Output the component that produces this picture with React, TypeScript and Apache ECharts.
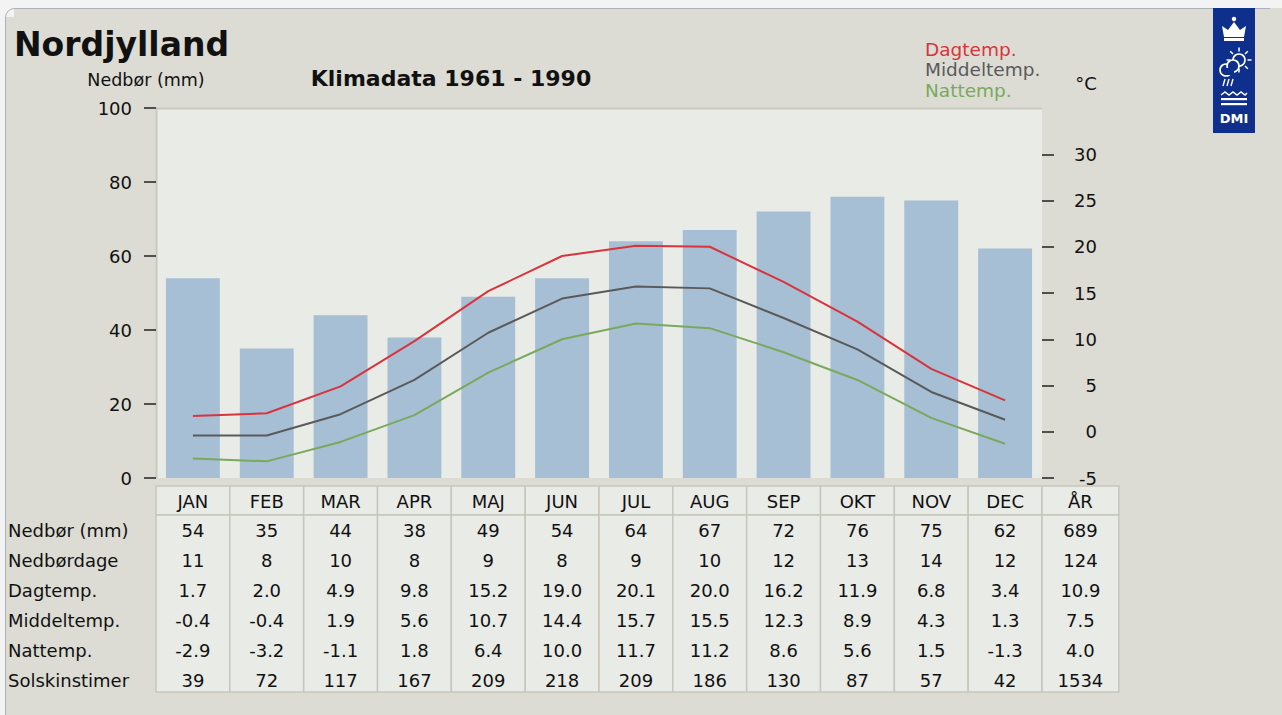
import React, { useEffect, useRef } from "react";
import * as echarts from "echarts";

const months = ["JAN", "FEB", "MAR", "APR", "MAJ", "JUN", "JUL", "AUG", "SEP", "OKT", "NOV", "DEC"];
const yearLabel = "ÅR";
const precipitation = [54, 35, 44, 38, 49, 54, 64, 67, 72, 76, 75, 62];
const precipitationDays = [11, 8, 10, 8, 9, 8, 9, 10, 12, 13, 14, 12];
const dayTemp = [1.7, 2.0, 4.9, 9.8, 15.2, 19.0, 20.1, 20.0, 16.2, 11.9, 6.8, 3.4];
const meanTemp = [-0.4, -0.4, 1.9, 5.6, 10.7, 14.4, 15.7, 15.5, 12.3, 8.9, 4.3, 1.3];
const nightTemp = [-2.9, -3.2, -1.1, 1.8, 6.4, 10.0, 11.7, 11.2, 8.6, 5.6, 1.5, -1.3];
const sunHours = [39, 72, 117, 167, 209, 218, 209, 186, 130, 87, 57, 42];
const yearTotals = ["689", "124", "10.9", "7.5", "4.0", "1534"];
const rowLabels = ["Nedbør (mm)", "Nedbørdage", "Dagtemp.", "Middeltemp.", "Nattemp.", "Solskinstimer"];
const rightTickValues = [-5, 0, 5, 10, 15, 20, 25, 30];
const legendNames = ["Dagtemp.", "Middeltemp.", "Nattemp."];

const FONT = "DejaVu Sans";
const RED = "#d8343c";
const GRAY = "#5a5a5a";
const GREEN = "#79a95c";
const PANEL = "#dcdcd4";
const CELL = "#e9ebe7";
const CELL_BORDER = "#c6c6bc";

export default function App() {
  const ref = useRef<HTMLDivElement>(null);

  useEffect(() => {
    if (!ref.current) return;
    const chart = echarts.init(ref.current, null, { renderer: "svg" });
    const gridLeft = 156, gridTop = 108, gridW = 886, gridH = 370;

    chart.setOption({
      animation: false,
      backgroundColor: PANEL,
      textStyle: { fontFamily: FONT },
      grid: {
        left: gridLeft, top: gridTop, width: gridW, height: gridH,
        show: true, backgroundColor: CELL, borderWidth: 0,
      },
      xAxis: {
        type: "category", data: months,
        axisLine: { show: false }, axisTick: { show: false }, axisLabel: { show: false },
        splitLine: { show: false },
      },
      yAxis: [
        {
          type: "value", min: 0, max: 100, interval: 20, position: "left",
          axisLine: { show: false },
          axisTick: { show: true, inside: false, length: 12, lineStyle: { color: "#222", width: 1.5 } },
          axisLabel: { margin: 24, color: "#111", fontSize: 18, fontFamily: FONT },
          splitLine: { show: false },
        },
        {
          type: "value", min: -5, max: 35, interval: 5, position: "right",
          axisLine: { show: false },
          axisTick: { show: true, inside: false, length: 12, customValues: rightTickValues, lineStyle: { color: "#222", width: 1.5 } },
          axisLabel: { margin: 55, align: "right", color: "#111", fontSize: 18, fontFamily: FONT, customValues: rightTickValues },
          splitLine: { show: false },
        },
      ],
      series: [
        { type: "bar", name: "Nedbør", data: precipitation, yAxisIndex: 0, barWidth: "73%", itemStyle: { color: "#a7bfd4" } },
        { type: "line", name: legendNames[0], data: dayTemp, yAxisIndex: 1, symbol: "none", lineStyle: { color: RED, width: 2 }, z: 5 },
        { type: "line", name: legendNames[1], data: meanTemp, yAxisIndex: 1, symbol: "none", lineStyle: { color: GRAY, width: 2 }, z: 5 },
        { type: "line", name: legendNames[2], data: nightTemp, yAxisIndex: 1, symbol: "none", lineStyle: { color: GREEN, width: 2 }, z: 5 },
      ],
    });

    // Table built from library scale positions
    const c0 = chart.convertToPixel({ xAxisIndex: 0 }, 0) as number;
    const c1 = chart.convertToPixel({ xAxisIndex: 0 }, 1) as number;
    const colW = c1 - c0;
    const headTop = 486, headH = 29, bodyTop = 515, bodyBottom = 692;
    const rowCenters = [530, 560, 590, 620, 650, 680];
    const fmt1 = (v: number) => v.toFixed(1);
    const rows: string[][] = [
      precipitation.map(String),
      precipitationDays.map(String),
      dayTemp.map(fmt1),
      meanTemp.map(fmt1),
      nightTemp.map(fmt1),
      sunHours.map(String),
    ];

    const g: any[] = [];
    // outer frame strips
    g.push({ type: "rect", shape: { x: 0, y: 0, width: 1282, height: 8 }, style: { fill: "#f3f3f3" }, silent: true });
    g.push({ type: "rect", shape: { x: 0, y: 0, width: 5, height: 715 }, style: { fill: "#f3f3f3" }, silent: true });
    g.push({ type: "line", shape: { x1: 14, y1: 8.5, x2: 1270, y2: 8.5 }, style: { stroke: "#a9b3bd", lineWidth: 1 } });
    g.push({ type: "line", shape: { x1: 5.5, y1: 17, x2: 5.5, y2: 715 }, style: { stroke: "#a9b3bd", lineWidth: 1 } });
    g.push({ type: "arc", shape: { cx: 14.5, cy: 17.5, r: 9, startAngle: Math.PI, endAngle: Math.PI * 1.5 }, style: { stroke: "#a9b3bd", lineWidth: 1, fill: null } });
    g.push({ type: "rect", shape: { x: 5, y: 8, width: 9, height: 9 }, style: { fill: "#f3f3f3" }, z: -1, silent: true });

    // plot shadow edges
    g.push({ type: "line", shape: { x1: gridLeft, y1: gridTop + 0.5, x2: gridLeft + gridW, y2: gridTop + 0.5 }, style: { stroke: "#c9c9c0", lineWidth: 2 } });
    g.push({ type: "line", shape: { x1: gridLeft + 0.5, y1: gridTop, x2: gridLeft + 0.5, y2: gridTop + gridH }, style: { stroke: "#c9c9c0", lineWidth: 2 } });

    // titles
    g.push({ type: "text", x: 14, y: 44, style: { text: "Nordjylland", font: `bold 33px "${FONT}"`, fill: "#111", verticalAlign: "middle", align: "left" } });
    g.push({ type: "text", x: 146, y: 80, style: { text: "Nedbør (mm)", font: `17.5px "${FONT}"`, fill: "#111", verticalAlign: "middle", align: "center" } });
    g.push({ type: "text", x: 451, y: 78, style: { text: "Klimadata 1961 - 1990", font: `bold 22px "${FONT}"`, fill: "#111", verticalAlign: "middle", align: "center" } });
    const legColors = [RED, GRAY, GREEN];
    legendNames.forEach((n, i) => {
      g.push({ type: "text", x: 925, y: 49 + i * 20.5, style: { text: n, font: `18.5px "${FONT}"`, fill: legColors[i], verticalAlign: "middle", align: "left" } });
    });
    g.push({ type: "text", x: 1086, y: 83, style: { text: "°C", font: `18px "${FONT}"`, fill: "#111", verticalAlign: "middle", align: "center" } });

    // table columns
    const cols = [...months, yearLabel];
    cols.forEach((m, i) => {
      const left = c0 - colW / 2 + i * colW;
      const w = i === months.length ? colW + 3 : colW;
      g.push({ type: "rect", shape: { x: left, y: headTop, width: w, height: headH }, style: { fill: CELL, stroke: CELL_BORDER, lineWidth: 1.5 } });
      g.push({ type: "rect", shape: { x: left, y: bodyTop, width: w, height: bodyBottom - bodyTop }, style: { fill: CELL, stroke: CELL_BORDER, lineWidth: 1.5 } });
      const cx = left + w / 2;
      g.push({ type: "text", x: cx, y: headTop + headH / 2 + 1, style: { text: m, font: `18px "${FONT}"`, fill: "#111", align: "center", verticalAlign: "middle" } });
      rowCenters.forEach((cy, r) => {
        const txt = i === months.length ? yearTotals[r] : rows[r][i];
        g.push({ type: "text", x: cx, y: cy, style: { text: txt, font: `18px "${FONT}"`, fill: "#111", align: "center", verticalAlign: "middle" } });
      });
    });
    rowLabels.forEach((l, r) => {
      g.push({ type: "text", x: 8, y: rowCenters[r], style: { text: l, font: `18px "${FONT}"`, fill: "#111", align: "left", verticalAlign: "middle" } });
    });

    // DMI logo
    const lx = 1213, ly = 8, lw = 42, lh = 125;
    const lc = lx + lw / 2;
    const BLUE = "#0f2f8c";
    g.push({ type: "rect", shape: { x: lx, y: ly, width: lw, height: lh }, style: { fill: BLUE } });
    // crown
    g.push({ type: "polygon", shape: { points: [[lc - 10, 37], [lc - 12, 26], [lc - 6, 30], [lc, 22], [lc + 6, 30], [lc + 12, 26], [lc + 10, 37]] }, style: { fill: "#fff" } });
    g.push({ type: "rect", shape: { x: lc - 10, y: 38, width: 20, height: 3 }, style: { fill: "#fff" } });
    g.push({ type: "circle", shape: { cx: lc, cy: 19, r: 2.2 }, style: { fill: "#fff" } });
    // sun
    g.push({ type: "circle", shape: { cx: lc + 5, cy: 60, r: 6 }, style: { fill: "none", stroke: "#fff", lineWidth: 1.6 } });
    for (let k = 0; k < 8; k++) {
      const a = (k * Math.PI) / 4;
      g.push({ type: "line", shape: { x1: lc + 5 + Math.cos(a) * 8.5, y1: 60 + Math.sin(a) * 8.5, x2: lc + 5 + Math.cos(a) * 12.5, y2: 60 + Math.sin(a) * 12.5 }, style: { stroke: "#fff", lineWidth: 1.5 } });
    }
    // cloud
    g.push({ type: "circle", shape: { cx: lc - 8, cy: 70, r: 6 }, style: { fill: BLUE, stroke: "#fff", lineWidth: 1.6 } });
    g.push({ type: "circle", shape: { cx: lc - 1, cy: 66, r: 6 }, style: { fill: BLUE, stroke: "#fff", lineWidth: 1.6 } });
    g.push({ type: "rect", shape: { x: lc - 8, y: 68, width: 8, height: 7 }, style: { fill: BLUE } });
    for (let k = 0; k < 3; k++) {
      g.push({ type: "line", shape: { x1: lc - 9 + k * 4, y1: 79, x2: lc - 11 + k * 4, y2: 86 }, style: { stroke: "#fff", lineWidth: 1.4 } });
    }
    // waves
    g.push({ type: "polyline", shape: { points: [[lc - 13, 95], [lc - 9, 92], [lc - 5, 95], [lc - 1, 92], [lc + 3, 95], [lc + 7, 92], [lc + 11, 95], [lc + 13, 93]] }, style: { stroke: "#fff", lineWidth: 1.5, fill: null } });
    g.push({ type: "rect", shape: { x: lc - 13, y: 98, width: 26, height: 2.2 }, style: { fill: "#fff" } });
    g.push({ type: "rect", shape: { x: lc - 13, y: 103, width: 26, height: 2.2 }, style: { fill: "#fff" } });
    g.push({ type: "text", x: lc, y: 118, style: { text: "DMI", font: `bold 13px "${FONT}"`, fill: "#fff", align: "center", verticalAlign: "middle" } });

    chart.setOption({ graphic: { elements: g } });

    return () => chart.dispose();
  }, []);

  return <div ref={ref} style={{ position: "absolute", left: 0, top: 0, width: 1282, height: 715 }} />;
}
